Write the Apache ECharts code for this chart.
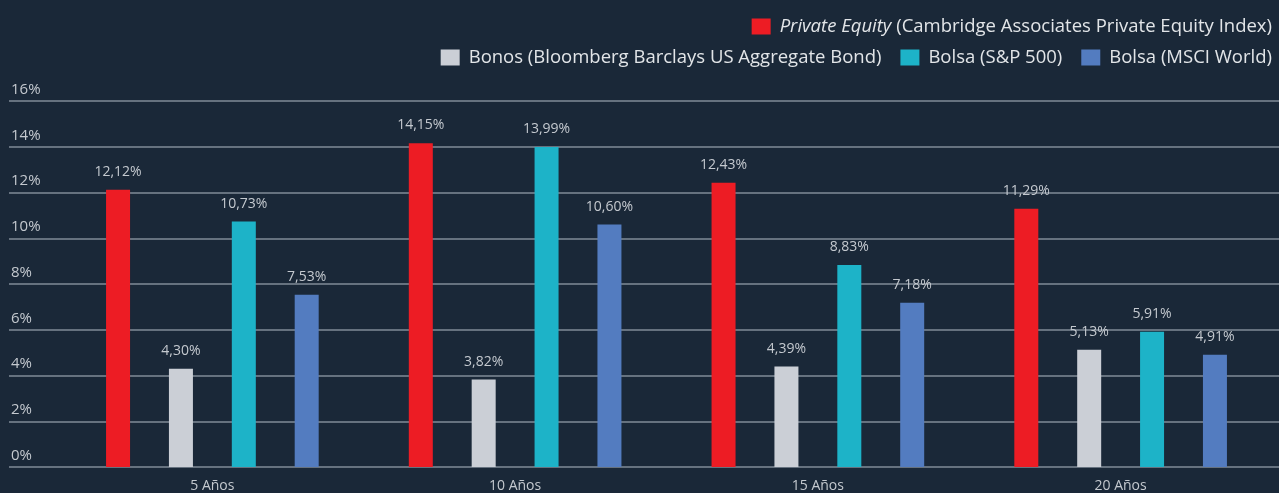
<!DOCTYPE html>
<html>
<head>
<meta charset="utf-8">
<script src="https://cdn.jsdelivr.net/npm/echarts@6/dist/echarts.min.js"></script>
<style>
  html, body { margin: 0; padding: 0; background: #1a2838; }
  #chart { width: 1279px; height: 493px; }
</style>
</head>
<body>
<div id="chart"></div>
<script>
// Horizons and annualised returns (%) per asset class
const categories = ['5 Años', '10 Años', '15 Años', '20 Años'];
const seriesNames = [
  'Private Equity (Cambridge Associates Private Equity Index)',
  'Bonos (Bloomberg Barclays US Aggregate Bond)',
  'Bolsa (S&P 500)',
  'Bolsa (MSCI World)'
];
const privateEquity = [12.12, 14.15, 12.43, 11.29];
const bonos = [4.30, 3.82, 4.39, 5.13];
const sp500 = [10.73, 13.99, 8.83, 5.91];
const msciWorld = [7.53, 10.60, 7.18, 4.91];
const yTicks = [0, 2, 4, 6, 8, 10, 12, 14, 16];

const colors = ['#ed1c24', '#cbcfd6', '#1db3c8', '#537cc0'];
const FONT = 'Open Sans';
const pct = v => v.toFixed(2).replace('.', ',') + '%';

const chart = echarts.init(document.getElementById('chart'), null, { renderer: 'canvas' });

const barSeries = [privateEquity, bonos, sp500, msciWorld].map((vals, i) => ({
  name: seriesNames[i],
  type: 'bar',
  xAxisIndex: 1,
  yAxisIndex: 1,
  data: vals,
  barWidth: 24,
  barGap: '162%',
  itemStyle: { color: colors[i] },
  label: {
    show: true,
    position: 'top',
    distance: 11,
    color: '#c4c9cf',
    fontFamily: FONT,
    fontSize: 14,
    formatter: p => pct(p.value)
  }
}));

const legendText = {
  color: '#e2e5e8',
  fontFamily: FONT,
  fontSize: 18.5,
  padding: [0, 0, 0, 4]
};

chart.setOption({
  backgroundColor: '#1a2838',
  animation: false,
  legend: [
    {
      right: 2, top: 12,
      itemWidth: 19, itemHeight: 16, itemGap: 19,
      icon: 'rect',
      data: [seriesNames[0]],
      formatter: name => '{i|Private Equity}' + name.slice('Private Equity'.length),
      textStyle: Object.assign({}, legendText, {
        rich: { i: { fontStyle: 'italic', color: '#e2e5e8', fontFamily: FONT, fontSize: 18.5 } }
      })
    },
    {
      right: 2, top: 43,
      itemWidth: 19, itemHeight: 16, itemGap: 19,
      icon: 'rect',
      data: seriesNames.slice(1),
      textStyle: legendText
    }
  ],
  grid: [
    // full-width grid carrying the horizontal guide lines and percent labels
    { left: 9, right: 0, top: 101, bottom: 26, containLabel: false },
    // inner grid holding the bar groups
    { left: 61, right: 7, top: 101, bottom: 26, containLabel: false }
  ],
  xAxis: [
    { type: 'category', gridIndex: 0, data: [''], show: false },
    {
      type: 'category', gridIndex: 1, data: categories,
      axisLine: { show: false }, axisTick: { show: false },
      axisLabel: { color: '#c4c9cf', fontFamily: FONT, fontSize: 14, margin: 12 }
    }
  ],
  yAxis: [
    {
      type: 'value', gridIndex: 0, min: 0, max: 16, interval: 2,
      axisLine: { show: false }, axisTick: { show: false },
      splitLine: { lineStyle: { color: '#66727f', width: 2 } },
      axisLabel: {
        inside: true, margin: 2,
        verticalAlign: 'bottom',
        padding: [0, 0, 4, 0],
        color: '#c4c9cf', fontFamily: FONT, fontSize: 15,
        formatter: v => (yTicks.includes(v) ? v + '%' : '')
      }
    },
    {
      type: 'value', gridIndex: 1, min: 0, max: 16, interval: 2,
      show: false, splitLine: { show: false }
    }
  ],
  series: barSeries
});
</script>
</body>
</html>
